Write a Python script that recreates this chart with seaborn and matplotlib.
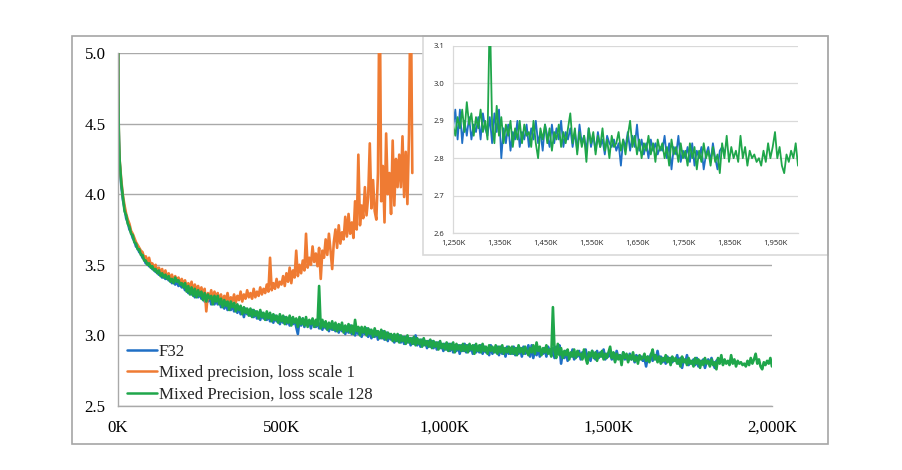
import matplotlib
matplotlib.use("Agg")
import matplotlib.pyplot as plt
from matplotlib.patches import Rectangle
from matplotlib.lines import Line2D
import seaborn as sns

# ---------------- data (training steps in thousands, loss values) ----------------
steps_k = [0, 1, 2, 3, 4] + list(range(5, 2001, 5))

f32_loss = [
    5.6, 4.70, 4.46, 4.36, 4.27,
    4.22, 4.06, 3.96, 3.90, 3.83, 3.80, 3.75, 3.73, 3.69, 3.67,
    3.63, 3.62, 3.59, 3.58, 3.55, 3.54, 3.51, 3.52, 3.49, 3.49,
    3.47, 3.47, 3.45, 3.45, 3.43, 3.44, 3.41, 3.42, 3.40, 3.41,
    3.39, 3.40, 3.37, 3.38, 3.36, 3.38, 3.35, 3.36, 3.34, 3.35,
    3.32, 3.35, 3.30, 3.34, 3.29, 3.33, 3.27, 3.31, 3.27, 3.30,
    3.26, 3.30, 3.24, 3.28, 3.24, 3.28, 3.22, 3.27, 3.22, 3.26,
    3.22, 3.26, 3.20, 3.25, 3.19, 3.23, 3.18, 3.23, 3.18, 3.22,
    3.17, 3.21, 3.16, 3.20, 3.15, 3.19, 3.13, 3.19, 3.15, 3.18,
    3.14, 3.18, 3.13, 3.17, 3.12, 3.16, 3.11, 3.16, 3.12, 3.15,
    3.11, 3.15, 3.10, 3.14, 3.09, 3.14, 3.10, 3.13, 3.08, 3.13,
    3.09, 3.13, 3.08, 3.12, 3.07, 3.12, 3.08, 3.11, 3.06, 3.01,
    3.11, 3.07, 3.12, 3.06, 3.11, 3.07, 3.10, 3.05, 3.11, 3.07,
    3.06, 3.10, 3.05, 3.09, 3.04, 3.09, 3.05, 3.08, 3.03, 3.08,
    3.04, 3.08, 3.03, 3.07, 3.02, 3.07, 3.03, 3.06, 3.01, 3.06,
    3.02, 3.07, 3.01, 3.06, 3.00, 3.05, 3.01, 3.05, 2.99, 3.04,
    3.01, 3.05, 2.99, 3.04, 2.98, 3.03, 2.99, 3.03, 2.97, 3.02,
    2.98, 3.03, 2.97, 3.02, 2.96, 3.01, 2.97, 3.00, 2.95, 3.00,
    2.96, 3.00, 2.95, 2.99, 2.94, 2.99, 2.95, 2.98, 2.93, 2.98,
    2.94, 3.00, 2.93, 2.97, 2.92, 2.97, 2.93, 2.96, 2.91, 2.96,
    2.92, 2.96, 2.91, 2.95, 2.90, 2.95, 2.91, 2.94, 2.89, 2.94,
    2.90, 2.94, 2.89, 2.94, 2.88, 2.93, 2.89, 2.93, 2.87, 2.93,
    2.89, 2.94, 2.88, 2.93, 2.89, 2.92, 2.87, 2.93, 2.88, 2.92,
    2.88, 2.93, 2.87, 2.92, 2.88, 2.91, 2.86, 2.93, 2.87, 2.91,
    2.88, 2.92, 2.86, 2.92, 2.87, 2.91, 2.85, 2.92, 2.87, 2.91,
    2.87, 2.92, 2.86, 2.91, 2.87, 2.91, 2.85, 2.92, 2.87, 2.88,
    2.93, 2.85, 2.93, 2.84, 2.90, 2.86, 2.91, 2.85, 2.89, 2.87,
    2.91, 2.85, 2.92, 2.88, 2.86, 2.91, 2.84, 2.92, 2.87, 2.93,
    2.80, 2.88, 2.84, 2.89, 2.82, 2.87, 2.85, 2.90, 2.83, 2.87,
    2.85, 2.89, 2.83, 2.88, 2.85, 2.90, 2.84, 2.87, 2.82, 2.89,
    2.86, 2.83, 2.89, 2.84, 2.88, 2.85, 2.90, 2.83, 2.87, 2.85,
    2.88, 2.83, 2.87, 2.82, 2.89, 2.84, 2.86, 2.82, 2.88, 2.83,
    2.86, 2.82, 2.87, 2.83, 2.85, 2.81, 2.86, 2.84, 2.83, 2.85,
    2.82, 2.84, 2.78, 2.85, 2.83, 2.87, 2.82, 2.86, 2.83, 2.89,
    2.82, 2.85, 2.81, 2.84, 2.80, 2.85, 2.82, 2.84, 2.81, 2.83,
    2.82, 2.86, 2.80, 2.84, 2.77, 2.83, 2.81, 2.86, 2.79, 2.82,
    2.80, 2.83, 2.79, 2.84, 2.78, 2.82, 2.80, 2.83, 2.77, 2.81,
    2.83, 2.79, 2.84, 2.80, 2.77, 2.82, 2.83, 2.82,
]

mp_scale1_loss = [
    5.6, 4.78, 4.50, 4.37, 4.29,
    4.24, 4.10, 3.99, 3.92, 3.86, 3.82, 3.79, 3.74, 3.72, 3.69,
    3.66, 3.64, 3.62, 3.60, 3.59, 3.55, 3.56, 3.52, 3.55, 3.50,
    3.51, 3.48, 3.50, 3.45, 3.48, 3.44, 3.47, 3.42, 3.46, 3.41,
    3.44, 3.40, 3.43, 3.38, 3.42, 3.39, 3.41, 3.37, 3.40, 3.36,
    3.39, 3.34, 3.37, 3.33, 3.38, 3.31, 3.36, 3.32, 3.35, 3.30,
    3.34, 3.29, 3.33, 3.17, 3.30, 3.26, 3.32, 3.25, 3.31, 3.27,
    3.30, 3.24, 3.29, 3.22, 3.28, 3.25, 3.30, 3.23, 3.27, 3.24,
    3.29, 3.23, 3.28, 3.25, 3.31, 3.24, 3.29, 3.26, 3.32, 3.27,
    3.30, 3.26, 3.33, 3.27, 3.31, 3.28, 3.34, 3.29, 3.33, 3.30,
    3.36, 3.31, 3.55, 3.32, 3.37, 3.33, 3.40, 3.34, 3.38, 3.36,
    3.42, 3.35, 3.44, 3.38, 3.48, 3.37, 3.46, 3.41, 3.60, 3.42,
    3.50, 3.44, 3.53, 3.46, 3.72, 3.48, 3.55, 3.50, 3.63, 3.52,
    3.58, 3.49, 3.62, 3.40, 3.60, 3.55, 3.68, 3.57, 3.72, 3.60,
    3.47, 3.66, 3.75, 3.62, 3.78, 3.65, 3.73, 3.68, 3.84, 3.70,
    3.86, 3.72, 3.80, 3.69, 3.95, 3.75, 4.28, 3.78, 3.92, 3.83,
    4.05, 3.85, 3.98, 4.36, 3.90, 4.10, 3.88, 3.82, 4.15, 5.60,
    3.95, 4.20, 3.80, 4.43, 4.00, 4.15, 3.86, 4.38, 3.92, 4.25,
    4.05, 4.28, 4.05, 4.41, 3.98, 4.30, 3.93, 4.43, 5.60, 4.15,
]

mp_scale128_loss = [
    5.6, 4.80, 4.52, 4.38, 4.30,
    4.24, 4.08, 3.98, 3.88, 3.85, 3.79, 3.77, 3.72, 3.71, 3.66,
    3.65, 3.61, 3.61, 3.57, 3.57, 3.53, 3.53, 3.50, 3.51, 3.48,
    3.49, 3.46, 3.47, 3.44, 3.46, 3.42, 3.44, 3.41, 3.43, 3.40,
    3.42, 3.38, 3.40, 3.37, 3.41, 3.38, 3.39, 3.36, 3.37, 3.34,
    3.37, 3.31, 3.35, 3.29, 3.34, 3.28, 3.33, 3.27, 3.32, 3.28,
    3.31, 3.25, 3.30, 3.24, 3.29, 3.26, 3.28, 3.22, 3.28, 3.24,
    3.28, 3.22, 3.26, 3.20, 3.25, 3.21, 3.24, 3.18, 3.24, 3.20,
    3.23, 3.17, 3.22, 3.18, 3.21, 3.15, 3.20, 3.16, 3.19, 3.14,
    3.19, 3.13, 3.18, 3.14, 3.17, 3.12, 3.18, 3.13, 3.16, 3.11,
    3.17, 3.12, 3.16, 3.10, 3.15, 3.11, 3.14, 3.09, 3.15, 3.10,
    3.14, 3.08, 3.13, 3.09, 3.14, 3.07, 3.13, 3.09, 3.12, 3.06,
    3.13, 3.08, 3.12, 3.07, 3.13, 3.06, 3.11, 3.08, 3.12, 3.06,
    3.11, 3.07, 3.35, 3.05, 3.11, 3.06, 3.10, 3.04, 3.09, 3.05,
    3.10, 3.04, 3.09, 3.03, 3.08, 3.04, 3.09, 3.02, 3.07, 3.03,
    3.08, 3.02, 3.07, 3.01, 3.11, 3.03, 3.06, 3.00, 3.06, 3.02,
    3.06, 3.00, 3.05, 3.01, 3.04, 2.99, 3.05, 3.00, 3.03, 2.98,
    3.04, 2.98, 3.03, 2.97, 3.02, 2.98, 3.01, 2.96, 3.01, 2.96,
    3.01, 2.95, 3.00, 2.96, 2.99, 2.94, 3.00, 2.95, 2.98, 2.94,
    2.99, 2.93, 2.98, 2.94, 2.97, 2.92, 2.98, 2.93, 2.96, 2.92,
    2.97, 2.91, 2.96, 2.92, 2.95, 2.90, 2.96, 2.91, 2.94, 2.90,
    2.95, 2.89, 2.94, 2.90, 2.95, 2.88, 2.94, 2.90, 2.93, 2.89,
    2.94, 2.89, 2.93, 2.88, 2.94, 2.90, 2.93, 2.87, 2.94, 2.89,
    2.93, 2.88, 2.94, 2.89, 2.92, 2.87, 2.93, 2.89, 2.92, 2.88,
    2.93, 2.87, 2.92, 2.88, 2.93, 2.87, 2.91, 2.88, 2.92, 2.87,
    2.92, 2.87, 2.91, 2.86, 2.93, 2.88, 2.91, 2.87, 2.92, 2.89,
    2.86, 2.91, 2.88, 2.93, 2.87, 2.95, 2.89, 2.92, 2.86, 2.91,
    2.88, 2.93, 2.87, 2.90, 2.85, 3.20, 2.89, 2.84, 2.94, 2.86,
    2.91, 2.84, 2.89, 2.86, 2.90, 2.83, 2.88, 2.85, 2.90, 2.84,
    2.89, 2.86, 2.87, 2.83, 2.90, 2.84, 2.80, 2.88, 2.85, 2.89,
    2.84, 2.88, 2.82, 2.87, 2.85, 2.89, 2.83, 2.87, 2.84, 2.88,
    2.92, 2.84, 2.88, 2.81, 2.87, 2.83, 2.86, 2.79, 2.88, 2.84,
    2.87, 2.81, 2.86, 2.83, 2.88, 2.82, 2.85, 2.80, 2.86, 2.83,
    2.84, 2.87, 2.82, 2.85, 2.81, 2.86, 2.90, 2.83, 2.86, 2.81,
    2.85, 2.80, 2.84, 2.82, 2.86, 2.81, 2.84, 2.79, 2.85, 2.82,
    2.84, 2.80, 2.83, 2.78, 2.85, 2.81, 2.83, 2.79, 2.84, 2.80,
    2.82, 2.78, 2.84, 2.80, 2.83, 2.77, 2.82, 2.79, 2.84, 2.80,
    2.82, 2.78, 2.83, 2.79, 2.81, 2.76, 2.84, 2.80, 2.86, 2.79,
    2.83, 2.80, 2.82, 2.79, 2.86, 2.80, 2.83, 2.78, 2.82, 2.80,
    2.81, 2.79, 2.80, 2.78, 2.82, 2.79, 2.84, 2.80, 2.83, 2.87,
    2.80, 2.83, 2.78, 2.76, 2.81, 2.79, 2.82, 2.80, 2.84, 2.78,
]

series_names = ["F32", "Mixed precision, loss scale 1", "Mixed Precision, loss scale 128"]
series_values = [f32_loss, mp_scale1_loss, mp_scale128_loss]
series_colors = ["#1f6fc5", "#ef7b33", "#1fa64a"]

main_xticks = [0, 500, 1000, 1500, 2000]
main_xticklabels = ["0K", "500K", "1,000K", "1,500K", "2,000K"]
main_yticks = [2.5, 3.0, 3.5, 4.0, 4.5, 5.0]
main_yticklabels = ["2.5", "3.0", "3.5", "4.0", "4.5", "5.0"]

inset_xticks = [1250, 1350, 1450, 1550, 1650, 1750, 1850, 1950]
inset_xticklabels = ["1,250K", "1,350K", "1,450K", "1,550K", "1,650K", "1,750K", "1,850K", "1,950K"]
inset_yticks = [2.6, 2.7, 2.8, 2.9, 3.0, 3.1]
inset_yticklabels = ["2.6", "2.7", "2.8", "2.9", "3.0", "3.1"]

# ---------------- style ----------------
sns.set_style("white")
plt.rcParams["font.family"] = ["Liberation Serif", "DejaVu Serif"]

W, H = 902, 470
fig = plt.figure(figsize=(W / 100, H / 100), dpi=100)


def fx(px):
    return px / W


def fy(py):
    return 1 - py / H


grid_main = "#a9a9a9"
grid_inset = "#d9d9d9"

# ---------------- main axes ----------------
ax = fig.add_axes([fx(118), fy(406), fx(772) - fx(118), fy(53) - fy(406)])
for name, vals, col in zip(series_names, series_values, series_colors):
    sns.lineplot(x=steps_k[:len(vals)], y=vals, ax=ax, color=col, linewidth=1.9,
                 legend=False, estimator=None, sort=False)
ax.set_xlim(0, 2000)
ax.set_ylim(2.5, 5.0)
ax.set_xticks(main_xticks)
ax.set_xticklabels(main_xticklabels)
ax.set_yticks(main_yticks)
ax.set_yticklabels(main_yticklabels)
ax.set_xlabel("")
ax.set_ylabel("")
ax.grid(axis="y", color=grid_main, linewidth=1.0)
ax.grid(axis="x", visible=False)
ax.set_axisbelow(True)
for s in ["top", "right"]:
    ax.spines[s].set_visible(False)
for s in ["left", "bottom"]:
    ax.spines[s].set_color(grid_main)
    ax.spines[s].set_linewidth(1.0)
ax.tick_params(axis="both", which="major", direction="out", length=4, width=1.0,
               color=grid_main, labelsize=12.2, labelcolor="#000000")
ax.tick_params(axis="x", pad=6)
ax.tick_params(axis="y", pad=5)

handles = [Line2D([0], [0], color=c, lw=1.8) for c in series_colors]
ax.legend(handles, series_names, loc="lower left", bbox_to_anchor=(0.014, 0.010),
          frameon=False, fontsize=12.2, handlelength=1.75, handletextpad=0.12,
          labelspacing=0.32, borderpad=0.0, borderaxespad=0.0)

# ---------------- inset box ----------------
fig.add_artist(Rectangle((fx(423), fy(255)), fx(828) - fx(423), fy(36) - fy(255),
                         transform=fig.transFigure, facecolor="white",
                         edgecolor=grid_inset, linewidth=1.2, zorder=1))

ins = fig.add_axes([fx(453), fy(233), fx(798) - fx(453), fy(46) - fy(233)], zorder=2)
ins.patch.set_alpha(0)
for name, vals, col in zip(series_names, series_values, series_colors):
    if name == series_names[1]:
        continue
    sns.lineplot(x=steps_k[:len(vals)], y=vals, ax=ins, color=col, linewidth=1.3,
                 legend=False, estimator=None, sort=False)
ins.set_xlim(1250, 2000)
ins.set_ylim(2.6, 3.1)
ins.set_xticks(inset_xticks)
ins.set_xticklabels(inset_xticklabels)
ins.set_yticks(inset_yticks)
ins.set_yticklabels(inset_yticklabels)
ins.set_xlabel("")
ins.set_ylabel("")
ins.grid(axis="y", color=grid_inset, linewidth=0.9)
ins.grid(axis="x", visible=False)
ins.set_axisbelow(True)
for s in ["top", "right"]:
    ins.spines[s].set_visible(False)
for s in ["left", "bottom"]:
    ins.spines[s].set_color(grid_inset)
    ins.spines[s].set_linewidth(0.9)
for lab in ins.get_xticklabels() + ins.get_yticklabels():
    lab.set_family(["Open Sans", "DejaVu Sans"])
ins.tick_params(axis="x", direction="out", length=3, width=0.9, color=grid_inset,
                labelsize=5.5, pad=2, labelcolor="#222222")
ins.tick_params(axis="y", length=0, labelsize=5.5, pad=6, labelcolor="#222222")

# ---------------- outer frame ----------------
fig.add_artist(Rectangle((fx(72), fy(444)), fx(828) - fx(72), fy(36) - fy(444),
                         transform=fig.transFigure, fill=False,
                         edgecolor="#a6a6a6", linewidth=1.2, zorder=5))

fig.savefig("out.png", dpi=100, facecolor="white")
